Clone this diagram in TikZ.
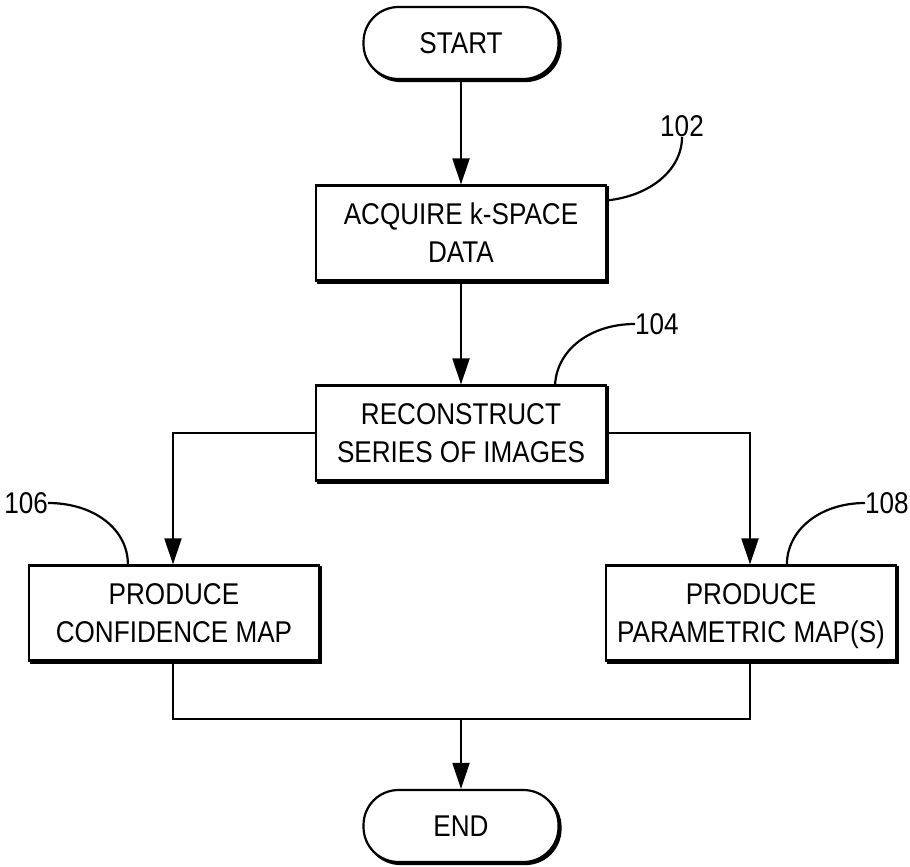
\documentclass[tikz,border=0pt]{standalone}
\usepackage{fontspec}
\setmainfont{Liberation Sans}[FakeStretch=0.87]
\usetikzlibrary{arrows.meta,shadows,calc}
\newcommand\mystrut{\rule[-7.6pt]{0pt}{35.6pt}}
\begin{document}
\begin{tikzpicture}[x=1pt,y=-1pt,
  every node/.style={font=\fontsize{30}{38}\selectfont},
  shad/.style={general shadow={fill=black,draw=black,line width=2.2pt,shadow xshift=2pt,shadow yshift=-2pt}},
  procbox/.style={draw,line width=2.2pt,fill=white,shad,align=center,minimum width=290pt,minimum height=95pt,inner sep=0pt},
  term/.style={draw,line width=2.2pt,fill=white,shad,rounded corners=35pt,minimum width=195pt,minimum height=72pt,inner sep=0pt},
  lbl/.style={inner sep=0pt},
  conn/.style={line width=2pt,-{Triangle[length=26pt,width=17pt]}},
  plain/.style={line width=2pt},
  callout/.style={line width=2.2pt}]
\useasboundingbox (0,0) rectangle (910,867);
\node[term] (start) at (461,43) {START};
\node[procbox] (b1) at (461,233) {\mystrut ACQUIRE k-SPACE\\\mystrut DATA};
\node[procbox] (b2) at (461,433) {\mystrut RECONSTRUCT\\\mystrut SERIES OF IMAGES};
\node[procbox] (b3) at (174,613) {\mystrut PRODUCE\\\mystrut CONFIDENCE MAP};
\node[procbox] (b4) at (751,613) {\mystrut PRODUCE\\\mystrut PARAMETRIC MAP(S)};
\node[term] (end) at (461,826) {END};
\coordinate (j) at (461,719);
% labels
\node[lbl,anchor=south] (l102) at (682,137) {102};
\node[lbl,anchor=west] (l104) at (635,324) {104};
\node[lbl,anchor=east] (l106) at (48,503) {106};
\node[lbl,anchor=west] (l108) at (865,503) {108};
% connectors
\draw[conn] (start) -- (b1);
\draw[conn] (b1) -- (b2);
\draw[conn] (b2.west) -| ([xshift=-1pt]b3.north);
\draw[conn] (b2.east) -| ([xshift=-1pt]b4.north);
\draw[plain] ([xshift=-1pt]b3.south) |- (j) -| ([xshift=-1pt]b4.south);
\draw[conn] (j) -- (end);
% callouts
\draw[callout] ($(b1.north east)+(0,16)$) .. controls (650,196) and (682,170) .. (l102.south);
\draw[callout] ($(b2.north east)+(-52,0)$) .. controls (557,350) and (590,324) .. (l104.west);
\draw[callout] (l106.east) .. controls (95,503) and (128,530) .. ($(b3.north west)+(100,0)$);
\draw[callout] ($(b4.north west)+(182,0)$) .. controls (787,530) and (820,503) .. (l108.west);
\end{tikzpicture}
\end{document}
